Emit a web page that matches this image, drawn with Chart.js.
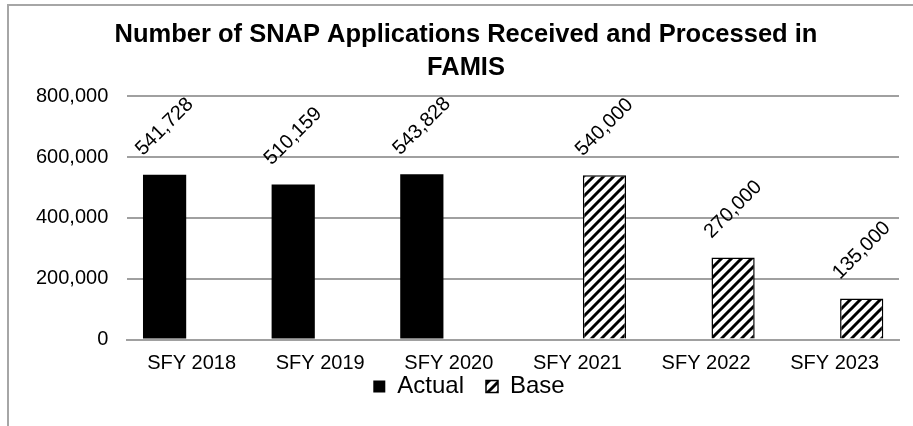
<!DOCTYPE html>
<html><head><meta charset="utf-8">
<script src="https://cdn.jsdelivr.net/npm/chart.js@4/dist/chart.umd.min.js"></script>
<style>html,body{margin:0;padding:0;background:#fff}#wrap{width:913px;height:426px;position:relative}</style>
</head><body><div id="wrap"><canvas id="c" width="913" height="426"></canvas></div>
<script>
const categories = ['SFY 2018','SFY 2019','SFY 2020','SFY 2021','SFY 2022','SFY 2023'];
const actualValues = [541728, 510159, 543828, null, null, null];
const baseValues = [null, null, null, 540000, 270000, 135000];
const yTicks = [0, 200000, 400000, 600000, 800000];
const titleLines = ['Number of SNAP Applications Received and Processed in', 'FAMIS'];

const canvas = document.getElementById('c');
const ctx = canvas.getContext('2d');
function makeHatch(){
  const c = document.createElement('canvas'); c.width = 10; c.height = 10;
  const g = c.getContext('2d');
  g.fillStyle = '#fff'; g.fillRect(0,0,10,10);
  g.strokeStyle = '#000'; g.lineWidth = 3;
  g.beginPath();
  g.moveTo(-5,5); g.lineTo(5,-5);
  g.moveTo(-1,11); g.lineTo(11,-1);
  g.moveTo(5,15); g.lineTo(15,5);
  g.stroke();
  return ctx.createPattern(c, 'repeat');
}
const hatch = makeHatch();
const fmt = v => v.toLocaleString('en-US');
const FONT = '"Liberation Sans", Arial, sans-serif';

const framePlugin = {
  id: 'frame',
  beforeDraw(chart){
    const g = chart.ctx;
    g.save();
    g.strokeStyle = '#a6a6a6'; g.lineWidth = 2;
    g.beginPath(); g.moveTo(8, 426); g.lineTo(8, 5); g.lineTo(913, 5); g.stroke();
    g.restore();
  }
};
const boxShift = {
  id: 'boxShift',
  afterLayout(chart){
    const L = chart.legend;
    if (L) {
      const d = L.top - (386.5 - 34); L.top -= d; L.bottom -= d;
      L.left += 11; L.right += 11;
    }
    const T = chart.titleBlock;
    if (T) { T.left += 8; T.right += 8; }
  }
};
const labelPlugin = {
  id: 'rotLabels',
  afterDatasetsDraw(chart){
    const g = chart.ctx;
    g.save();
    g.font = '20px ' + FONT;
    g.fillStyle = '#000'; g.textAlign = 'center'; g.textBaseline = 'middle';
    chart.data.datasets.forEach((ds, di) => {
      const meta = chart.getDatasetMeta(di);
      meta.data.forEach((el, i) => {
        const v = ds.data[i];
        if (v === null || v === undefined) return;
        g.save();
        g.translate(el.x, el.y - 48);
        g.rotate(-Math.PI/4);
        g.fillText(fmt(v), 0, 0);
        g.restore();
      });
    });
    g.restore();
  }
};

new Chart(canvas, {
  type: 'bar',
  data: {
    labels: categories,
    datasets: [
      {label: 'Actual', data: actualValues, backgroundColor: '#000', borderColor: '#000', borderWidth: 0,
       barPercentage: 0.8, categoryPercentage: 0.84},
      {label: 'Base', data: baseValues, backgroundColor: hatch, borderColor: '#000', borderWidth: 1.5,
       barPercentage: 0.8, categoryPercentage: 0.84}
    ]
  },
  options: {
    responsive: false, animation: false,
    layout: {padding: {left: 17, right: 14, top: 0, bottom: -2}},
    plugins: {
      title: {display: true, text: titleLines, color: '#000',
        font: {family: FONT, size: 25.5, weight: 'bold', lineHeight: 1.3},
        padding: {top: 18, bottom: 12}},
      legend: {position: 'bottom',
        labels: {color: '#000', font: {family: FONT, size: 24},
          boxWidth: 12, boxHeight: 12, padding: 22}},
      tooltip: {enabled: false}
    },
    scales: {
      x: {grid: {display: false, drawTicks: false}, border: {display: true, color: '#a0a0a0', width: 2},
        afterFit: s => { s.height = 32.5; },
        ticks: {color: '#000', padding: 15.5, font: {family: FONT, size: 20, lineHeight: 0.85}}},
      y: {min: 0, max: 800000, afterBuildTicks: s => { s.ticks = yTicks.map(v => ({value: v})); },
        grid: {color: '#a0a0a0', lineWidth: 2, drawTicks: false}, border: {display: false},
        ticks: {color: '#000', padding: 19, callback: v => fmt(v), font: {family: FONT, size: 20}}}
    }
  },
  plugins: [framePlugin, boxShift, labelPlugin]
});
</script></body></html>
